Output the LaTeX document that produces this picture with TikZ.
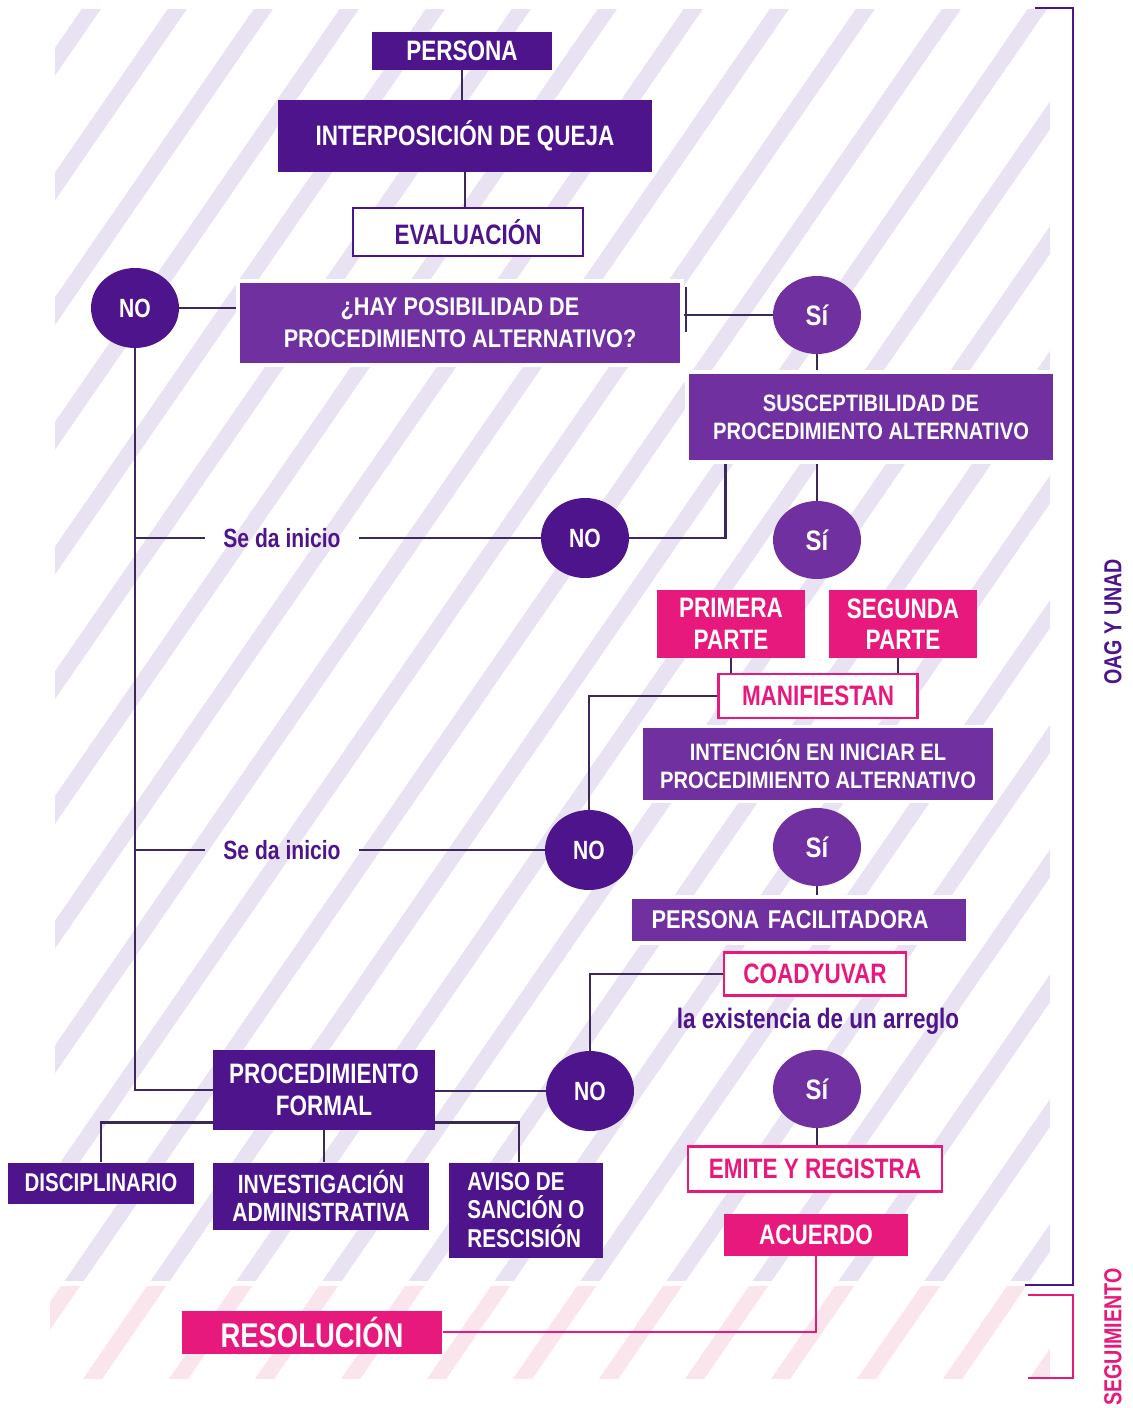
\documentclass[tikz,border=0pt]{standalone}
\usepackage{fontspec}
\setmainfont{Liberation Sans}
\newfontfamily\condfont[FakeStretch=0.8]{Liberation Sans}
\newfontfamily\narrowfont[FakeStretch=0.85]{Liberation Sans}
\usetikzlibrary{shapes.geometric}

\definecolor{darkpurple}{RGB}{78,20,140}
\definecolor{midpurple}{RGB}{112,48,160}
\definecolor{hotpink}{RGB}{232,25,125}
\definecolor{linegray}{RGB}{60,40,90}
\definecolor{stripepurple}{RGB}{232,226,243}
\definecolor{stripepink}{RGB}{251,229,237}

\tikzset{
  darkbox/.style={fill=darkpurple, text=white, align=center, inner sep=0pt,
    font={\condfont\bfseries\fontsize{16}{18}\selectfont}},
  midbox/.style={fill=midpurple, draw=white, line width=2pt, text=white, align=center, inner sep=0pt,
    font={\narrowfont\bfseries\fontsize{13.5}{16}\selectfont}},
  pinkbox/.style={fill=hotpink, text=white, align=center, inner sep=0pt,
    font={\condfont\bfseries\fontsize{16}{18}\selectfont}},
  pinkframe/.style={fill=white, draw=hotpink, line width=1.6pt, text=hotpink, inner sep=0pt,
    font={\condfont\bfseries\fontsize{16}{18}\selectfont}},
  darkframe/.style={fill=white, draw=darkpurple, line width=1.6pt, text=darkpurple, inner sep=0pt,
    font={\condfont\bfseries\fontsize{16}{18}\selectfont}},
  nonode/.style={ellipse, fill=darkpurple, text=white, minimum width=1.76cm, minimum height=1.6cm,
    inner sep=0pt, font={\condfont\bfseries\fontsize{15}{17}\selectfont}},
  yesnode/.style={ellipse, fill=midpurple, text=white, minimum width=1.76cm, minimum height=1.56cm,
    inner sep=0pt, font={\narrowfont\bfseries\fontsize{16}{18}\selectfont}},
  tagtext/.style={text=darkpurple, inner sep=0pt, font={\condfont\bfseries\fontsize{15}{17}\selectfont}},
  link/.style={draw=linegray, line width=1.6pt},
  pinklink/.style={draw=hotpink, line width=1.6pt},
  stripe/.style={line width=9pt},
}

\begin{document}
\begin{tikzpicture}[x=0.02cm, y=-0.02cm]
  \useasboundingbox (0,0) rectangle (1132,1408);

  % striped backgrounds
  \begin{scope}
    \clip (55,10) rectangle (1050,1280);
    \foreach \x in {-799,-713,...,1100}
      \draw[stripe, stripepurple] (\x-100,1445) -- ++(1100,-1595);
  \end{scope}
  \begin{scope}
    \clip (50,1286) rectangle (1050,1378);
    \foreach \x in {-799,-713,...,1100}
      \draw[stripe, stripepink] (\x-100,1445) -- ++(1100,-1595);
  \end{scope}

  % brackets on the right
  \draw[line width=1.6pt, darkpurple] (1035,8) -- (1073,8) -- (1073,1285) -- (1025,1285);
  \draw[line width=1.6pt, hotpink] (1028,1295) -- (1073,1295) -- (1073,1378) -- (1028,1378);
  \node[rotate=90, text=darkpurple, font={\condfont\bfseries\fontsize{14}{16}\selectfont}] (oag) at (1113,622) {OAG Y UNAD};
  \node[rotate=90, text=hotpink, font={\condfont\bfseries\fontsize{14}{16}\selectfont}] (seguim) at (1113,1337) {SEGUIMIENTO};

  % top
  \node[darkbox, minimum width=3.62cm, minimum height=0.76cm] (persona) at (462,51) {PERSONA};
  \node[darkbox, minimum width=7.48cm, minimum height=1.44cm] (queja) at (465,136) {INTERPOSICIÓN DE QUEJA};
  \node[darkframe, minimum width=4.6cm, minimum height=0.96cm] (evaluacion) at (468,232) {EVALUACIÓN};
  \node[midbox, font={\narrowfont\bfseries\fontsize{14.5}{18}\selectfont}, minimum width=8.88cm, minimum height=1.68cm] (hay) at (460,323) {¿HAY POSIBILIDAD DE\\PROCEDIMIENTO ALTERNATIVO?};
  \node[nonode] (no1) at (135,308) {NO};
  \node[yesnode] (si1) at (817,315) {Sí};

  % alternative branch
  \node[midbox, minimum width=7.36cm, minimum height=1.8cm] (susc) at (871,417) {SUSCEPTIBILIDAD DE\\PROCEDIMIENTO ALTERNATIVO};
  \node[yesnode] (si2) at (817,540) {Sí};
  \node[nonode] (no2) at (585,538) {NO};
  \node[tagtext, minimum width=3.06cm] (inicio1) at (282,538) {Se da inicio};

  \node[pinkbox, minimum width=2.96cm, minimum height=1.36cm] (primera) at (731,624) {PRIMERA\\PARTE};
  \node[pinkbox, minimum width=2.96cm, minimum height=1.36cm] (segunda) at (903,624) {SEGUNDA\\PARTE};
  \node[pinkframe, minimum width=3.98cm, minimum height=0.88cm] (manif) at (818,696) {MANIFIESTAN};
  \node[midbox, minimum width=7.08cm, minimum height=1.5cm] (intencion) at (818,764) {INTENCIÓN EN INICIAR EL\\PROCEDIMIENTO ALTERNATIVO};
  \node[yesnode] (si3) at (817,847) {Sí};
  \node[nonode] (no3) at (589,850) {NO};
  \node[tagtext, minimum width=3.06cm] (inicio2) at (282,850) {Se da inicio};

  \node[midbox, font={\narrowfont\bfseries\fontsize{14.6}{16}\selectfont}, inner xsep=0.42cm, text width=5.9cm, align=left, minimum height=0.92cm] (facil) at (799,920) {PERSONA FACILITADORA};
  \node[pinkframe, minimum width=3.64cm, minimum height=0.86cm] (coad) at (815,974) {COADYUVAR};
  \node[tagtext, font={\condfont\bfseries\fontsize{16}{18}\selectfont}] (arreglo) at (818,1021) {la existencia de un arreglo};
  \node[yesnode] (si4) at (817,1089) {Sí};
  \node[nonode] (no4) at (590,1091) {NO};

  % formal branch
  \node[darkbox, minimum width=4.44cm, minimum height=1.6cm] (formal) at (324,1090) {PROCEDIMIENTO\\FORMAL};
  \node[darkbox, font={\condfont\bfseries\fontsize{14.6}{16}\selectfont}, minimum width=3.74cm, minimum height=0.82cm] (disc) at (101,1183) {DISCIPLINARIO};
  \node[darkbox, font={\condfont\bfseries\fontsize{15}{16}\selectfont}, minimum width=4.32cm, minimum height=1.34cm] (invest) at (321,1196) {INVESTIGACIÓN\\ADMINISTRATIVA};
  \node[darkbox, font={\condfont\bfseries\fontsize{14.7}{16}\selectfont}, align=left, minimum width=3.08cm, minimum height=1.9cm] (aviso) at (526,1210) {AVISO DE\\SANCIÓN O\\RESCISIÓN};

  % agreement
  \node[pinkframe, minimum width=5.08cm, minimum height=0.9cm] (emite) at (815,1169) {EMITE Y REGISTRA};
  \node[pinkbox, minimum width=3.68cm, minimum height=0.84cm] (acuerdo) at (816,1235) {ACUERDO};
  \node[pinkbox, font={\condfont\bfseries\fontsize{19.5}{22}\selectfont}, minimum width=5.22cm, minimum height=0.86cm] (resolucion) at (312,1332) {RESOLUCIÓN};

  % connectors
  \draw[link] (persona.south) -- (persona.south |- queja.north);
  \draw[link] (queja.south) -- (queja.south |- evaluacion.north);
  \draw[link] (no1.east) -- (no1.east -| hay.west);
  \draw[link] (si1.west) -- (si1.west -| hay.east);
  \draw[link] (686,287) -- (686,332);
  \draw[link] (si1.south) -- (si1.south |- susc.north);
  \draw[link] (si2.north) -- (si2.north |- susc.south);
  \draw[link] (no2.east) -| ([xshift=0.8cm]susc.south west);
  \draw[link] (no2.west) -- (inicio1.east);
  \draw[link] (inicio1.west) -- (inicio1.west -| no1.south);
  \draw[link] (no1.south) |- (formal.west);
  \draw[link] (primera.south) -- (primera.south |- manif.north);
  \draw[link] ([xshift=-0.1cm]segunda.south) -- ([xshift=-0.1cm]segunda.south |- manif.north);
  \draw[link] (manif.west) -| (no3.north);
  \draw[link] (no3.west) -- (inicio2.east);
  \draw[link] (inicio2.west) -- (inicio2.west -| no1.south);
  \draw[link] (si3.south) -- (si3.south |- facil.north);
  \draw[link] (coad.west) -| (no4.north);
  \draw[link] (no4.west) -- (no4.west -| formal.east);
  \draw[link] (si4.south) -- (si4.south |- emite.north);
  \draw[link] ([yshift=0.16cm]formal.south west) -| (disc.north);
  \draw[link] (formal.south) -- (formal.south |- invest.north);
  \draw[link] ([yshift=0.16cm]formal.south east) -| ([xshift=-0.14cm]aviso.north);
  \draw[pinklink] (acuerdo.south) |- (resolucion.east);
\end{tikzpicture}
\end{document}
